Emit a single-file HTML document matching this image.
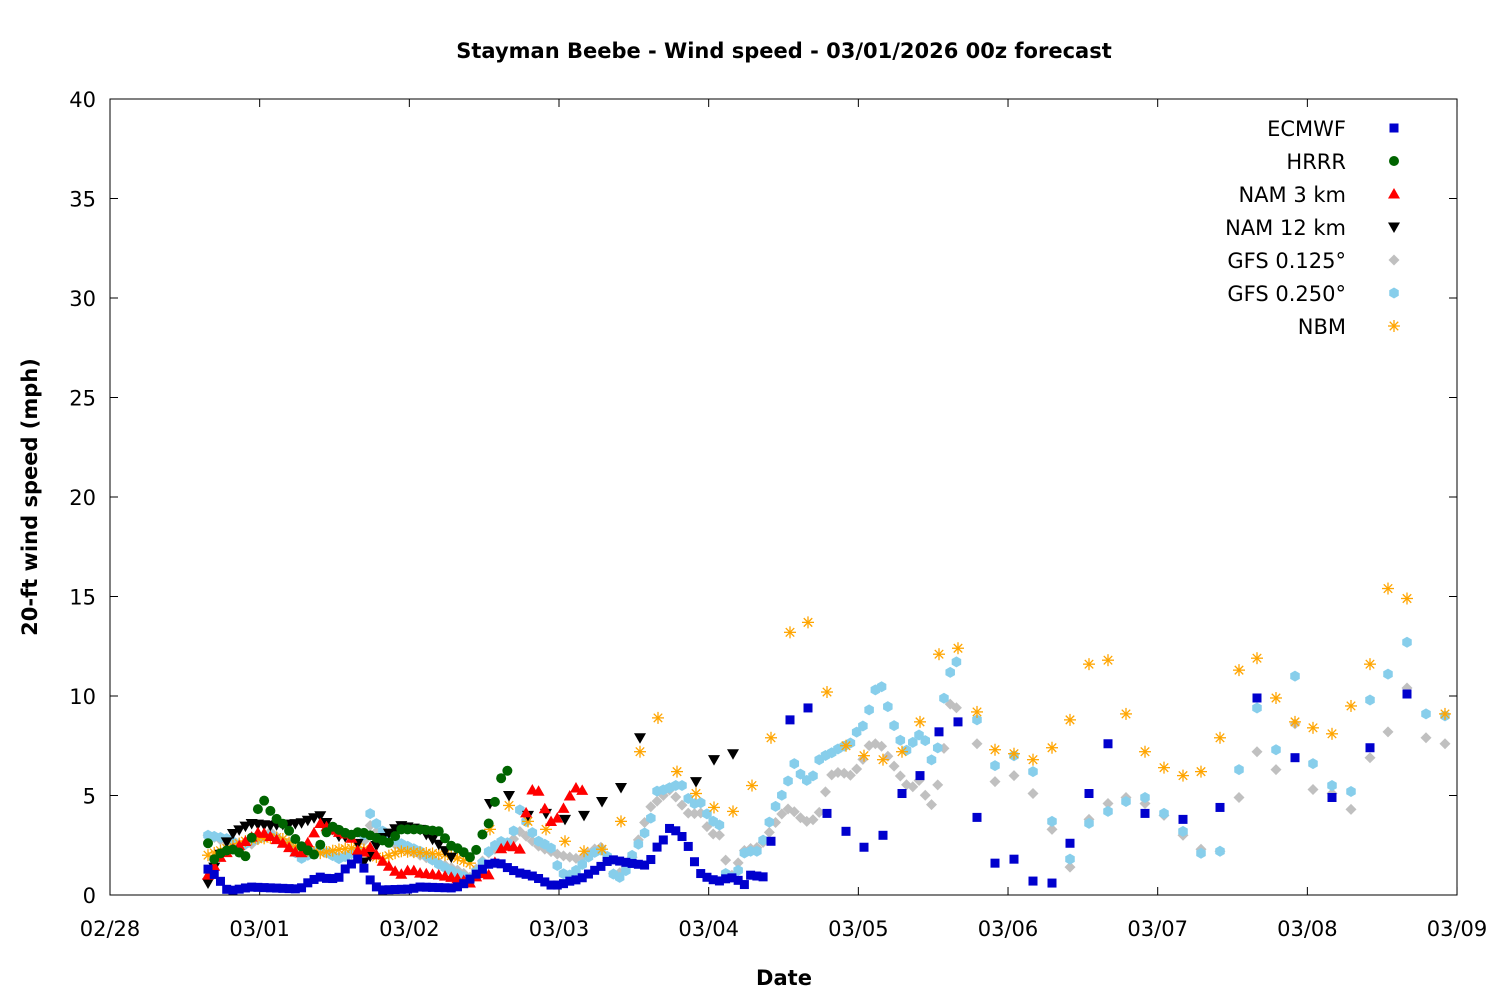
<!DOCTYPE html>
<html><head><meta charset="utf-8"><style>
body{margin:0;background:#fff;}
svg{display:block;font-family:"DejaVu Sans","Liberation Sans",sans-serif;}
</style></head><body>
<svg id="s" width="1500" height="1000" viewBox="0 0 1500 1000" xmlns="http://www.w3.org/2000/svg">
<rect width="1500" height="1000" fill="#fff"/>
<text x="784" y="58" text-anchor="middle" font-size="21" font-weight="bold">Stayman Beebe - Wind speed - 03/01/2026 00z forecast</text>
<text x="784" y="985" text-anchor="middle" font-size="21" font-weight="bold">Date</text>
<text transform="translate(37,497) rotate(-90)" text-anchor="middle" font-size="21" font-weight="bold">20-ft wind speed (mph)</text>
<g id="ax"></g>
<g id="pts"></g>
<rect x="110" y="99" width="1347" height="796" fill="none" stroke="#000" stroke-width="1"/>
</svg>
<script>
const NS="http://www.w3.org/2000/svg";
const ax=document.getElementById('ax'),P=document.getElementById('pts');
function el(p,tag,a,t){const e=document.createElementNS(NS,tag);for(const k in a)e.setAttribute(k,a[k]);if(t!==undefined)e.textContent=t;p.appendChild(e);return e;}
const Y=v=>895-v*19.9;
for(let i=0;i<=8;i++){const v=i*5,y=Y(v);
el(ax,'line',{x1:110,x2:118,y1:y,y2:y,stroke:'#000'});el(ax,'line',{x1:1449,x2:1457,y1:y,y2:y,stroke:'#000'});
el(ax,'text',{x:96,y:y+8,'text-anchor':'end','font-size':21},v);}
const dl=['02/28','03/01','03/02','03/03','03/04','03/05','03/06','03/07','03/08','03/09'];
dl.forEach((d,i)=>{const x=110+i*149.67;
el(ax,'line',{x1:x,x2:x,y1:895,y2:887,stroke:'#000'});el(ax,'line',{x1:x,x2:x,y1:99,y2:107,stroke:'#000'});
el(ax,'text',{x:x,y:936,'text-anchor':'middle','font-size':21},d);});
function interp(k,step){const out=[];for(let x=k[0][0];x<=k[k.length-1][0]+0.01;x+=step){let i=0;while(i<k.length-2&&k[i+1][0]<x)i++;const a=k[i],b=k[i+1];const t=(x-a[0])/(b[0]-a[0]);out.push([x,a[1]+(b[1]-a[1])*Math.max(0,Math.min(1,t))]);}return out;}
const H=6.237;
function mk(type,c,x,y){
 if(type=='sq')el(P,'rect',{x:x-4.5,y:y-4.5,width:9,height:9,fill:c});
 else if(type=='ci')el(P,'circle',{cx:x,cy:y,r:5,fill:c});
 else if(type=='up')el(P,'polygon',{points:`${x},${y-6} ${x-6},${y+4.5} ${x+6},${y+4.5}`,fill:c});
 else if(type=='dn')el(P,'polygon',{points:`${x},${y+6} ${x-6},${y-4.5} ${x+6},${y-4.5}`,fill:c});
 else if(type=='di')el(P,'polygon',{points:`${x},${y-5.5} ${x+5.5},${y} ${x},${y+5.5} ${x-5.5},${y}`,fill:c});
 else if(type=='hx'){let s='';for(let i=0;i<6;i++){const a=Math.PI/3*i+Math.PI/6;s+=(x+5.5*Math.cos(a))+','+(y+5.5*Math.sin(a))+' ';}el(P,'polygon',{points:s,fill:c});}
 else if(type=='st'){for(let i=0;i<4;i++){const a=Math.PI/4*i;el(P,'line',{x1:x-6*Math.cos(a),y1:y-6*Math.sin(a),x2:x+6*Math.cos(a),y2:y+6*Math.sin(a),stroke:c,'stroke-width':1.3});}}
}
function plot(type,c,pts){pts.forEach(p=>mk(type,c,p[0],Y(p[1])));}
// GFS 0.125
plot('di','#c0c0c0',interp([[208,3.0],[230,2.6],[250,2.5],[270,3.2],[290,2.4],[300,1.9],[320,2.2],[340,1.9],[360,2.2],[370,3.5],[380,3.0],[400,2.4],[420,2.0],[440,1.6],[460,1.2],[470,0.9],[490,2.2],[510,2.6],[520,3.2],[540,2.4],[560,2.0],[580,1.8],[600,2.5],[615,0.9],[630,1.6],[650,4.4],[670,5.3],[690,4.0],[700,4.2],[710,3.1],[720,3.0],[730,0.8],[745,2.3],[760,2.4],[780,4.0],[790,4.4],[800,3.9],[810,3.6],[820,4.2],[830,6.0],[840,6.2],[850,6.0],[860,6.5],[870,7.6],[880,7.6],[890,6.8],[900,6.0],[910,5.3],[920,5.8],[930,4.3],[940,5.9],[950,9.6],[960,9.3]],H)
 .concat([[977,7.6],[995,5.7],[1014,6.0],[1033,5.1],[1052,3.3],[1070,1.4],[1089,3.8],[1108,4.6],[1126,4.9],[1145,4.6],[1164,4.0],[1183,3.0],[1201,2.3],[1220,2.2],[1239,4.9],[1257,7.2],[1276,6.3],[1295,8.6],[1313,5.3],[1332,5.1],[1351,4.3],[1370,6.9],[1388,8.2],[1407,10.4],[1426,7.9],[1445,7.6]]));
// GFS 0.25
plot('hx','#87ceeb',interp([[208,3.0],[230,2.8],[240,2.4],[250,2.7],[270,3.0],[290,2.5],[300,1.8],[320,2.3],[340,1.8],[360,2.3],[370,4.1],[380,3.3],[400,2.6],[420,2.2],[440,1.5],[460,1.0],[470,0.8],[480,1.4],[490,2.3],[500,2.7],[510,2.6],[520,4.3],[530,3.3],[540,2.6],[550,2.5],[560,1.1],[570,1.0],[580,1.4],[590,2.0],[600,2.3],[610,1.8],[615,0.7],[625,1.1],[630,1.8],[640,2.7],[650,3.6],[655,5.2],[665,5.3],[675,5.5],[685,5.5],[690,4.5],[700,4.7],[710,3.8],[720,3.5],[725,1.1],[735,0.8],[745,2.2],[760,2.2],[765,3.1],[775,4.4],[785,5.3],[795,6.7],[800,6.1],[810,5.6],[820,6.9],[830,7.1],[840,7.4],[850,7.6],[855,8.1],[865,8.6],[875,10.3],[883,10.5],[890,9.0],[900,7.8],[910,7.0],[915,8.2],[925,7.8],[930,7.0],[935,6.3],[945,10.3],[955,12.0],[960,11.0]],H)
 .concat([[977,8.8],[995,6.5],[1014,7.0],[1033,6.2],[1052,3.7],[1070,1.8],[1089,3.6],[1108,4.2],[1126,4.7],[1145,4.9],[1164,4.1],[1183,3.2],[1201,2.1],[1220,2.2],[1239,6.3],[1257,9.4],[1276,7.3],[1295,11.0],[1313,6.6],[1332,5.5],[1351,5.2],[1370,9.8],[1388,11.1],[1407,12.7],[1426,9.1],[1445,9.0]]));
// NBM
plot('st','#ffa500',interp([[208,2.0],[230,2.4],[250,2.8],[280,2.9],[300,2.3],[320,2.1],[340,2.3],[360,2.4],[380,1.8],[400,2.2],[430,2.1],[450,2.0],[470,1.6]],H)
 .concat([[490,3.3],[509,4.5],[528,3.7],[546,3.3],[565,2.7],[584,2.2],[602,2.3],[621,3.7],[640,7.2],[658,8.9],[677,6.2],[696,5.1],[714,4.4],[733,4.2],[752,5.5],[771,7.9],[790,13.2],[808,13.7],[827,10.2],[846,7.5],[864,7.0],[883,6.8],[902,7.2],[920,8.7],[939,12.1],[958,12.4],[977,9.2],[995,7.3],[1014,7.1],[1033,6.8],[1052,7.4],[1070,8.8],[1089,11.6],[1108,11.8],[1126,9.1],[1145,7.2],[1164,6.4],[1183,6.0],[1201,6.2],[1220,7.9],[1239,11.3],[1257,11.9],[1276,9.9],[1295,8.7],[1313,8.4],[1332,8.1],[1351,9.5],[1370,11.6],[1388,15.4],[1407,14.9],[1445,9.1]]));
// NAM 12
plot('dn','#000',interp([[208,0.6],[215,1.5],[230,3.0],[250,3.6],[270,3.5],[300,3.6],[320,4.0],[340,2.9],[355,3.0],[365,1.5],[380,2.8],[400,3.5],[420,3.3],[440,2.5],[455,1.7]],H)
 .concat([[490,4.6],[509,5.0],[528,4.0],[546,4.1],[565,3.8],[584,4.0],[602,4.7],[621,5.4],[640,7.9],[696,5.7],[714,6.8],[733,7.1]]));
// NAM 3
plot('up','#ff0000',interp([[208,1.0],[215,1.5],[222,2.0],[240,2.5],[260,3.2],[280,2.7],[300,2.0],[320,3.6],[335,3.2],[350,3.0],[360,2.0],[370,2.4],[380,1.8],[400,1.0],[410,1.3],[420,1.1],[440,1.0],[460,0.8],[470,0.6],[480,1.1],[490,1.0],[500,2.3],[510,2.5],[520,2.3],[530,5.3],[540,5.2],[545,4.3],[552,3.6],[560,4.0],[570,5.0],[578,5.5],[585,5.1]],H));
// HRRR
plot('ci','#006400',interp([[208,2.6],[215,1.7],[222,2.2],[235,2.3],[245,1.9],[250,2.5],[260,4.8],[267,4.7],[272,4.0],[285,3.5],[300,2.5],[315,2.0],[330,3.5],[350,3.0],[360,3.2],[370,3.0],[380,2.8],[390,2.6],[400,3.3],[420,3.3],[440,3.2],[450,2.5],[460,2.3],[470,1.9],[475,2.1],[480,2.8],[485,3.3],[490,3.7],[495,4.7],[500,5.8],[510,6.4]],H));
// ECMWF
plot('sq','#0000cd',interp([[208,1.3],[215,1.0],[222,0.6],[228,0.2],[240,0.3],[250,0.4],[300,0.3],[310,0.7],[320,0.9],[330,0.8],[340,0.9],[345,1.3],[360,1.9],[365,1.2],[372,0.6],[380,0.25],[410,0.3],[420,0.4],[455,0.35],[465,0.6],[475,1.0],[490,1.6],[500,1.6],[510,1.3],[520,1.1],[530,1.0],[540,0.8],[550,0.5],[560,0.5],[570,0.7],[580,0.8],[590,1.1],[600,1.4],[610,1.8],[620,1.7],[630,1.6],[645,1.5],[650,1.7],[660,2.7],[665,2.8],[670,3.4],[680,3.1],[690,2.3],[695,1.6],[700,1.1],[710,0.8],[720,0.7],[730,0.9],[740,0.7],[745,0.5],[750,1.0],[765,0.9]],H)
 .concat([[771,2.7],[790,8.8],[808,9.4],[827,4.1],[846,3.2],[864,2.4],[883,3.0],[902,5.1],[920,6.0],[939,8.2],[958,8.7],[977,3.9],[995,1.6],[1014,1.8],[1033,0.7],[1052,0.6],[1070,2.6],[1089,5.1],[1108,7.6],[1145,4.1],[1183,3.8],[1220,4.4],[1257,9.9],[1295,6.9],[1332,4.9],[1370,7.4],[1407,10.1]]));
// legend
const L=[['ECMWF','sq','#0000cd'],['HRRR','ci','#006400'],['NAM 3 km','up','#ff0000'],['NAM 12 km','dn','#000'],['GFS 0.125°','di','#c0c0c0'],['GFS 0.250°','hx','#87ceeb'],['NBM','st','#ffa500']];
L.forEach((l,i)=>{const y=128+i*33;el(P,'text',{x:1346,y:y+8,'text-anchor':'end','font-size':21},l[0]);mk(l[1],l[2],1394,y);});
</script>
</body></html>
